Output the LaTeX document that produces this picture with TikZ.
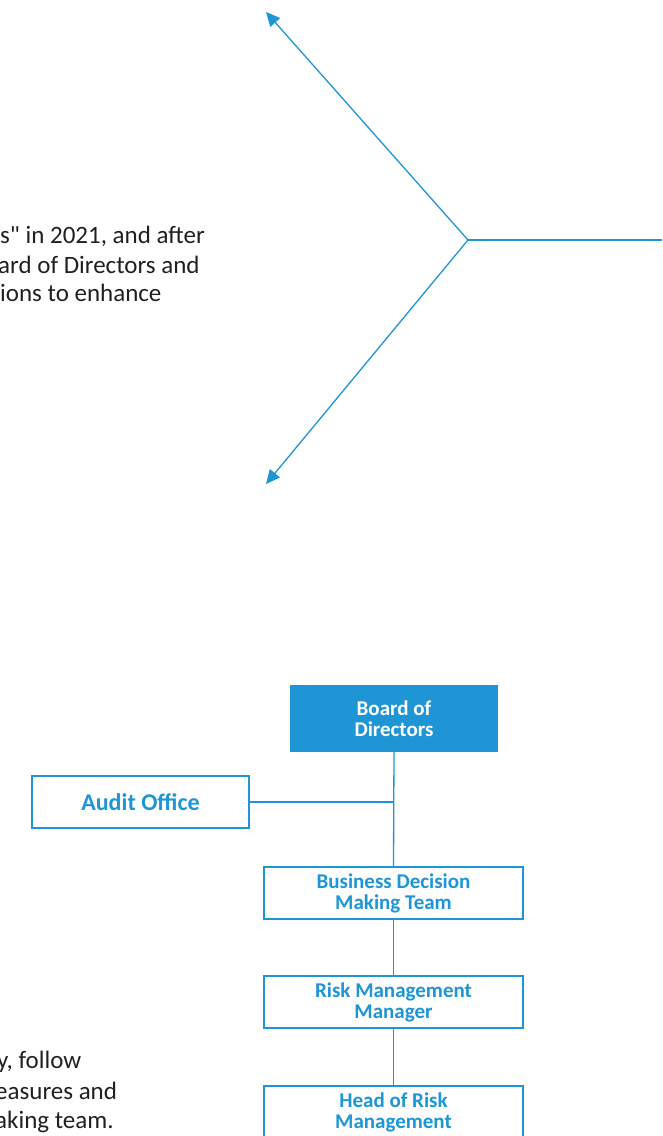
\documentclass[tikz,border=0pt]{standalone}
\usepackage{fontspec}
\setmainfont{Carlito}
\usetikzlibrary{arrows.meta}
\definecolor{corpblue}{RGB}{30,149,212}
\definecolor{bodytext}{RGB}{35,31,32}
\tikzset{
  link/.style={draw=corpblue, line width=1.3pt},
  tiplink/.style={link, -{Triangle[length=14pt,width=13pt]}},
  orgbox/.style={draw=corpblue, line width=1.3pt, fill=white, inner sep=0pt,
    text=corpblue, font=\bfseries\fontsize{21}{21}\selectfont, align=center},
  bodyline/.style={anchor=west, inner sep=0pt, text=bodytext,
    font=\fontsize{25}{29}\selectfont}
}
\begin{document}
\begin{tikzpicture}[x=1pt,y=-1pt]
\useasboundingbox (0,0) rectangle (662,1136);
\clip (0,0) rectangle (662,1136);

% three-way split with arrow ends
\coordinate (hub) at (468,240);
\coordinate (east) at (662,240);
\coordinate (upper) at (266,12);
\coordinate (lower) at (266,484);
\draw[link] (hub) -- (east);
\draw[tiplink] (hub) -- (upper);
\draw[tiplink] (hub) -- (lower);

% paragraph fragments
\node[bodyline] (p1) at (0,236) {s\textquotedbl{} in 2021, and after};
\node[bodyline] (p2) at (-2,265) {ard of Directors and};
\node[bodyline] (p3) at (0,293) {ions to enhance};
\node[bodyline] (p4) at (-3,1062) {y, follow};
\node[bodyline] (p5) at (-5,1091) {easures and};
\node[bodyline] (p6) at (-5,1122) {aking team.};

% organisation chart
\node[orgbox, fill=corpblue, text=white, minimum width=206pt, minimum height=65pt]
  (board) at (394,718.5) {Board of\\Directors};
\node[orgbox, minimum width=217pt, minimum height=52pt,
  font=\bfseries\fontsize{24}{24}\selectfont]
  (audit) at (140.5,802) {Audit Office};
\node[orgbox, minimum width=259pt, minimum height=52pt]
  (bdmt) at (393.5,893) {Business Decision\\Making Team};
\node[orgbox, minimum width=259pt, minimum height=52pt]
  (rmm) at (393.5,1002) {Risk Management\\Manager};
\node[orgbox, minimum width=259pt, minimum height=52pt]
  (head) at (393.5,1112) {Head of Risk\\Management};

\coordinate (join) at (394,802);
\draw[link] (board.south) -- (bdmt.north);
\draw[link] (audit.east) -- (join);
\draw[link] (bdmt.south) -- (rmm.north);
\draw[link] (rmm.south) -- (head.north);
\end{tikzpicture}
\end{document}
